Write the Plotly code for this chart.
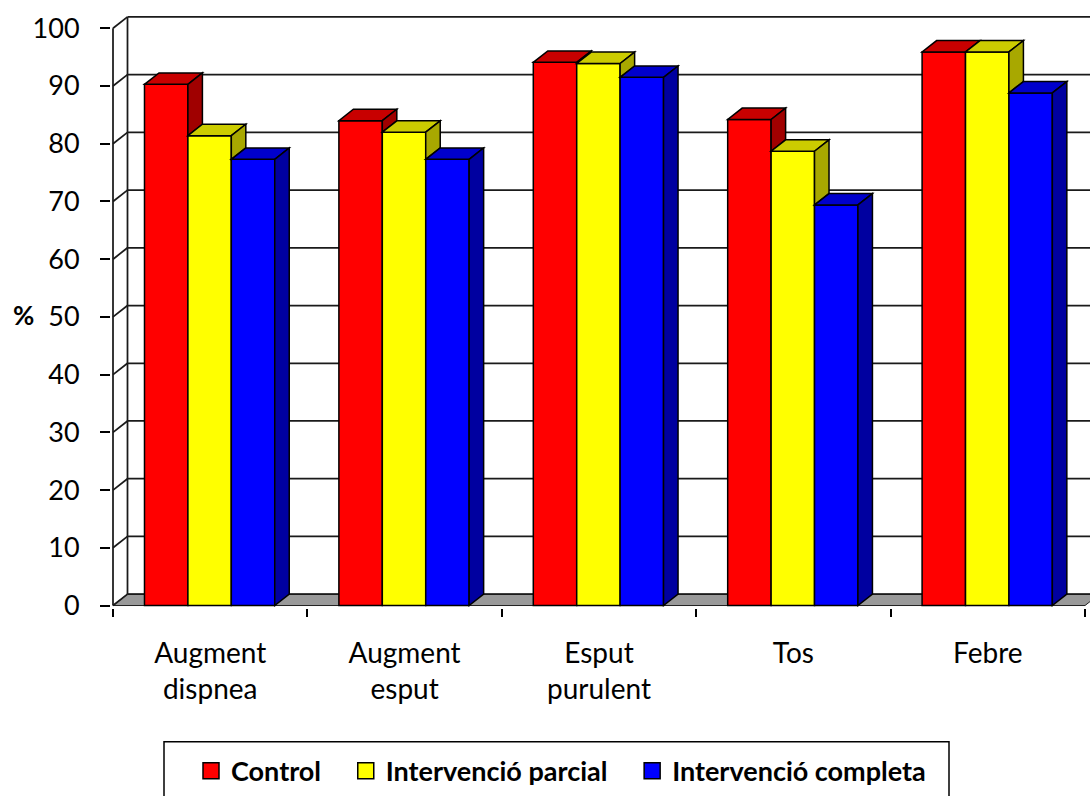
import plotly.graph_objects as go

# Categories and series (percent)
categories = ["Augment<br>dispnea", "Augment<br>esput", "Esput<br>purulent", "Tos", "Febre"]
control = [90.3, 84.0, 94.1, 84.2, 95.9]
parcial = [81.4, 82.0, 93.9, 78.7, 95.9]
completa = [77.3, 77.3, 91.5, 69.4, 88.8]
series_names = ["Control", "Intervenció parcial", "Intervenció completa"]
y_ticks = list(range(0, 101, 10))

series = [control, parcial, completa]
front_colors = ["#FF0000", "#FFFF00", "#0000FF"]
top_colors = ["#C80000", "#CCCC00", "#0000CC"]
side_colors = ["#A00000", "#A8A800", "#0000A0"]

# Canvas geometry (pixels) used to build axis ranges
W, H = 1090, 796
X0_PX, SX = 113.0, 194.4      # x=0 position and pixels per category
Y0_PX, SY = 611.5, 5.83       # y=0 position and pixels per percent
PLOT_LEFT, PLOT_TOP, PLOT_BOTTOM = 111, 8, 614
PLOT_W, PLOT_H = W - PLOT_LEFT, PLOT_BOTTOM - PLOT_TOP

x_range = [(PLOT_LEFT - X0_PX) / SX, (W - X0_PX) / SX]
y_range = [(Y0_PX - PLOT_BOTTOM) / SY, (Y0_PX - PLOT_TOP) / SY]


def paper_x(px):
    return (px - PLOT_LEFT) / PLOT_W


def paper_y(px):
    return (PLOT_BOTTOM - px) / PLOT_H


# Oblique depth of the 3D look, in data units
DX = 14.5 / SX
DY = 11.5 / SY

n_cat = len(categories)
centers = [i + 0.5 for i in range(n_cat)]
group_w = 0.67
bar_w = group_w / 3
group_start = -0.338

fig = go.Figure()

# Front faces of the columns
for j, vals in enumerate(series):
    fig.add_trace(go.Bar(
        x=centers, y=vals, width=bar_w, offset=group_start + j * bar_w,
        marker=dict(color=front_colors[j], line=dict(color="black", width=1.5)),
        showlegend=False, hoverinfo="skip",
    ))

# Legend entries (trailing no-break spaces widen the gap between entries)
pad = "\u00a0\u00a0\u00a0"
for j, name in enumerate(series_names):
    fig.add_trace(go.Scatter(
        x=[None], y=[None], mode="markers",
        name=name + (pad if j < len(series_names) - 1 else ""),
        marker=dict(symbol="square", size=17, color=front_colors[j],
                    line=dict(color="black", width=1.5)),
    ))

shapes = []
grid_line = dict(color="#1a1a1a", width=1.75)

# Floor slab
shapes.append(dict(
    type="path", layer="below",
    path=f"M 0,0 L {n_cat},0 L {n_cat + DX},{DY} L {DX},{DY} Z",
    fillcolor="#999999", line=dict(color="#202020", width=1),
))

# Side wall diagonals and back wall gridlines
for v in y_ticks:
    shapes.append(dict(type="line", layer="below", x0=0, y0=v, x1=DX, y1=v + DY, line=grid_line))
    shapes.append(dict(type="line", layer="below", x0=DX, y0=v + DY, x1=x_range[1] + 1, y1=v + DY, line=grid_line))

# Wall edges
shapes.append(dict(type="line", layer="below", x0=DX, y0=DY, x1=DX, y1=100 + DY, line=grid_line))
shapes.append(dict(type="line", layer="below", x0=0, y0=0, x1=0, y1=100, line=grid_line))

# Top and right faces of each column, painted left to right
for i in range(n_cat):
    c = centers[i]
    for j, vals in enumerate(series):
        v = vals[i]
        x0 = c + group_start + j * bar_w
        x1 = x0 + bar_w
        shapes.append(dict(
            type="path", layer="above",
            path=f"M {x0},{v} L {x1},{v} L {x1 + DX},{v + DY} L {x0 + DX},{v + DY} Z",
            fillcolor=top_colors[j], line=dict(color="black", width=1.5),
        ))
        lo = series[j + 1][i] if j + 1 < len(series) else 0
        if v > lo:
            shapes.append(dict(
                type="path", layer="above",
                path=f"M {x1},{v} L {x1 + DX},{v + DY} L {x1 + DX},{lo + DY} L {x1},{lo} Z",
                fillcolor=side_colors[j], line=dict(color="black", width=1.5),
            ))

# Legend frame
shapes.append(dict(
    type="rect", xref="paper", yref="paper", layer="above",
    x0=paper_x(164), x1=paper_x(949), y0=paper_y(749), y1=paper_y(805),
    fillcolor="rgba(0,0,0,0)", line=dict(color="black", width=1.5),
))

fig.update_layout(
    width=W, height=H,
    margin=dict(l=PLOT_LEFT, r=0, t=PLOT_TOP, b=H - PLOT_BOTTOM),
    paper_bgcolor="white", plot_bgcolor="white",
    barmode="overlay",
    font=dict(family="Lato, Carlito, sans-serif", color="black", size=27),
    shapes=shapes,
    showlegend=True,
    legend=dict(
        orientation="h", xref="paper", yref="paper",
        x=paper_x(191), xanchor="left",
        y=paper_y(754), yanchor="top",
        bgcolor="rgba(0,0,0,0)", borderwidth=0,
        font=dict(family="Lato, sans-serif", size=27, weight="bold", color="black"),
    ),
    xaxis=dict(
        range=x_range, showgrid=False, zeroline=False, showline=False,
        tickmode="array", tickvals=centers, ticktext=categories, ticks="",
        ticklabelstandoff=26,
        tickfont=dict(size=28, color="black"),
        minor=dict(tickmode="array", tickvals=list(range(n_cat + 1)), ticks="outside",
                   ticklen=8, tickwidth=1.5, tickcolor="black", showgrid=False),
    ),
    yaxis=dict(
        range=y_range, showgrid=False, zeroline=False, showline=False,
        tickmode="array", tickvals=y_ticks, ticks="outside", ticklen=10,
        tickwidth=1.5, tickcolor="black", ticklabelstandoff=15,
        tickfont=dict(size=27, color="black"),
    ),
    annotations=[dict(
        text="%", xref="paper", yref="y", xanchor="center",
        x=paper_x(23), y=50.3,
        showarrow=False, font=dict(size=26, weight="bold", color="black"),
    )],
)

fig.write_html("out.html")
